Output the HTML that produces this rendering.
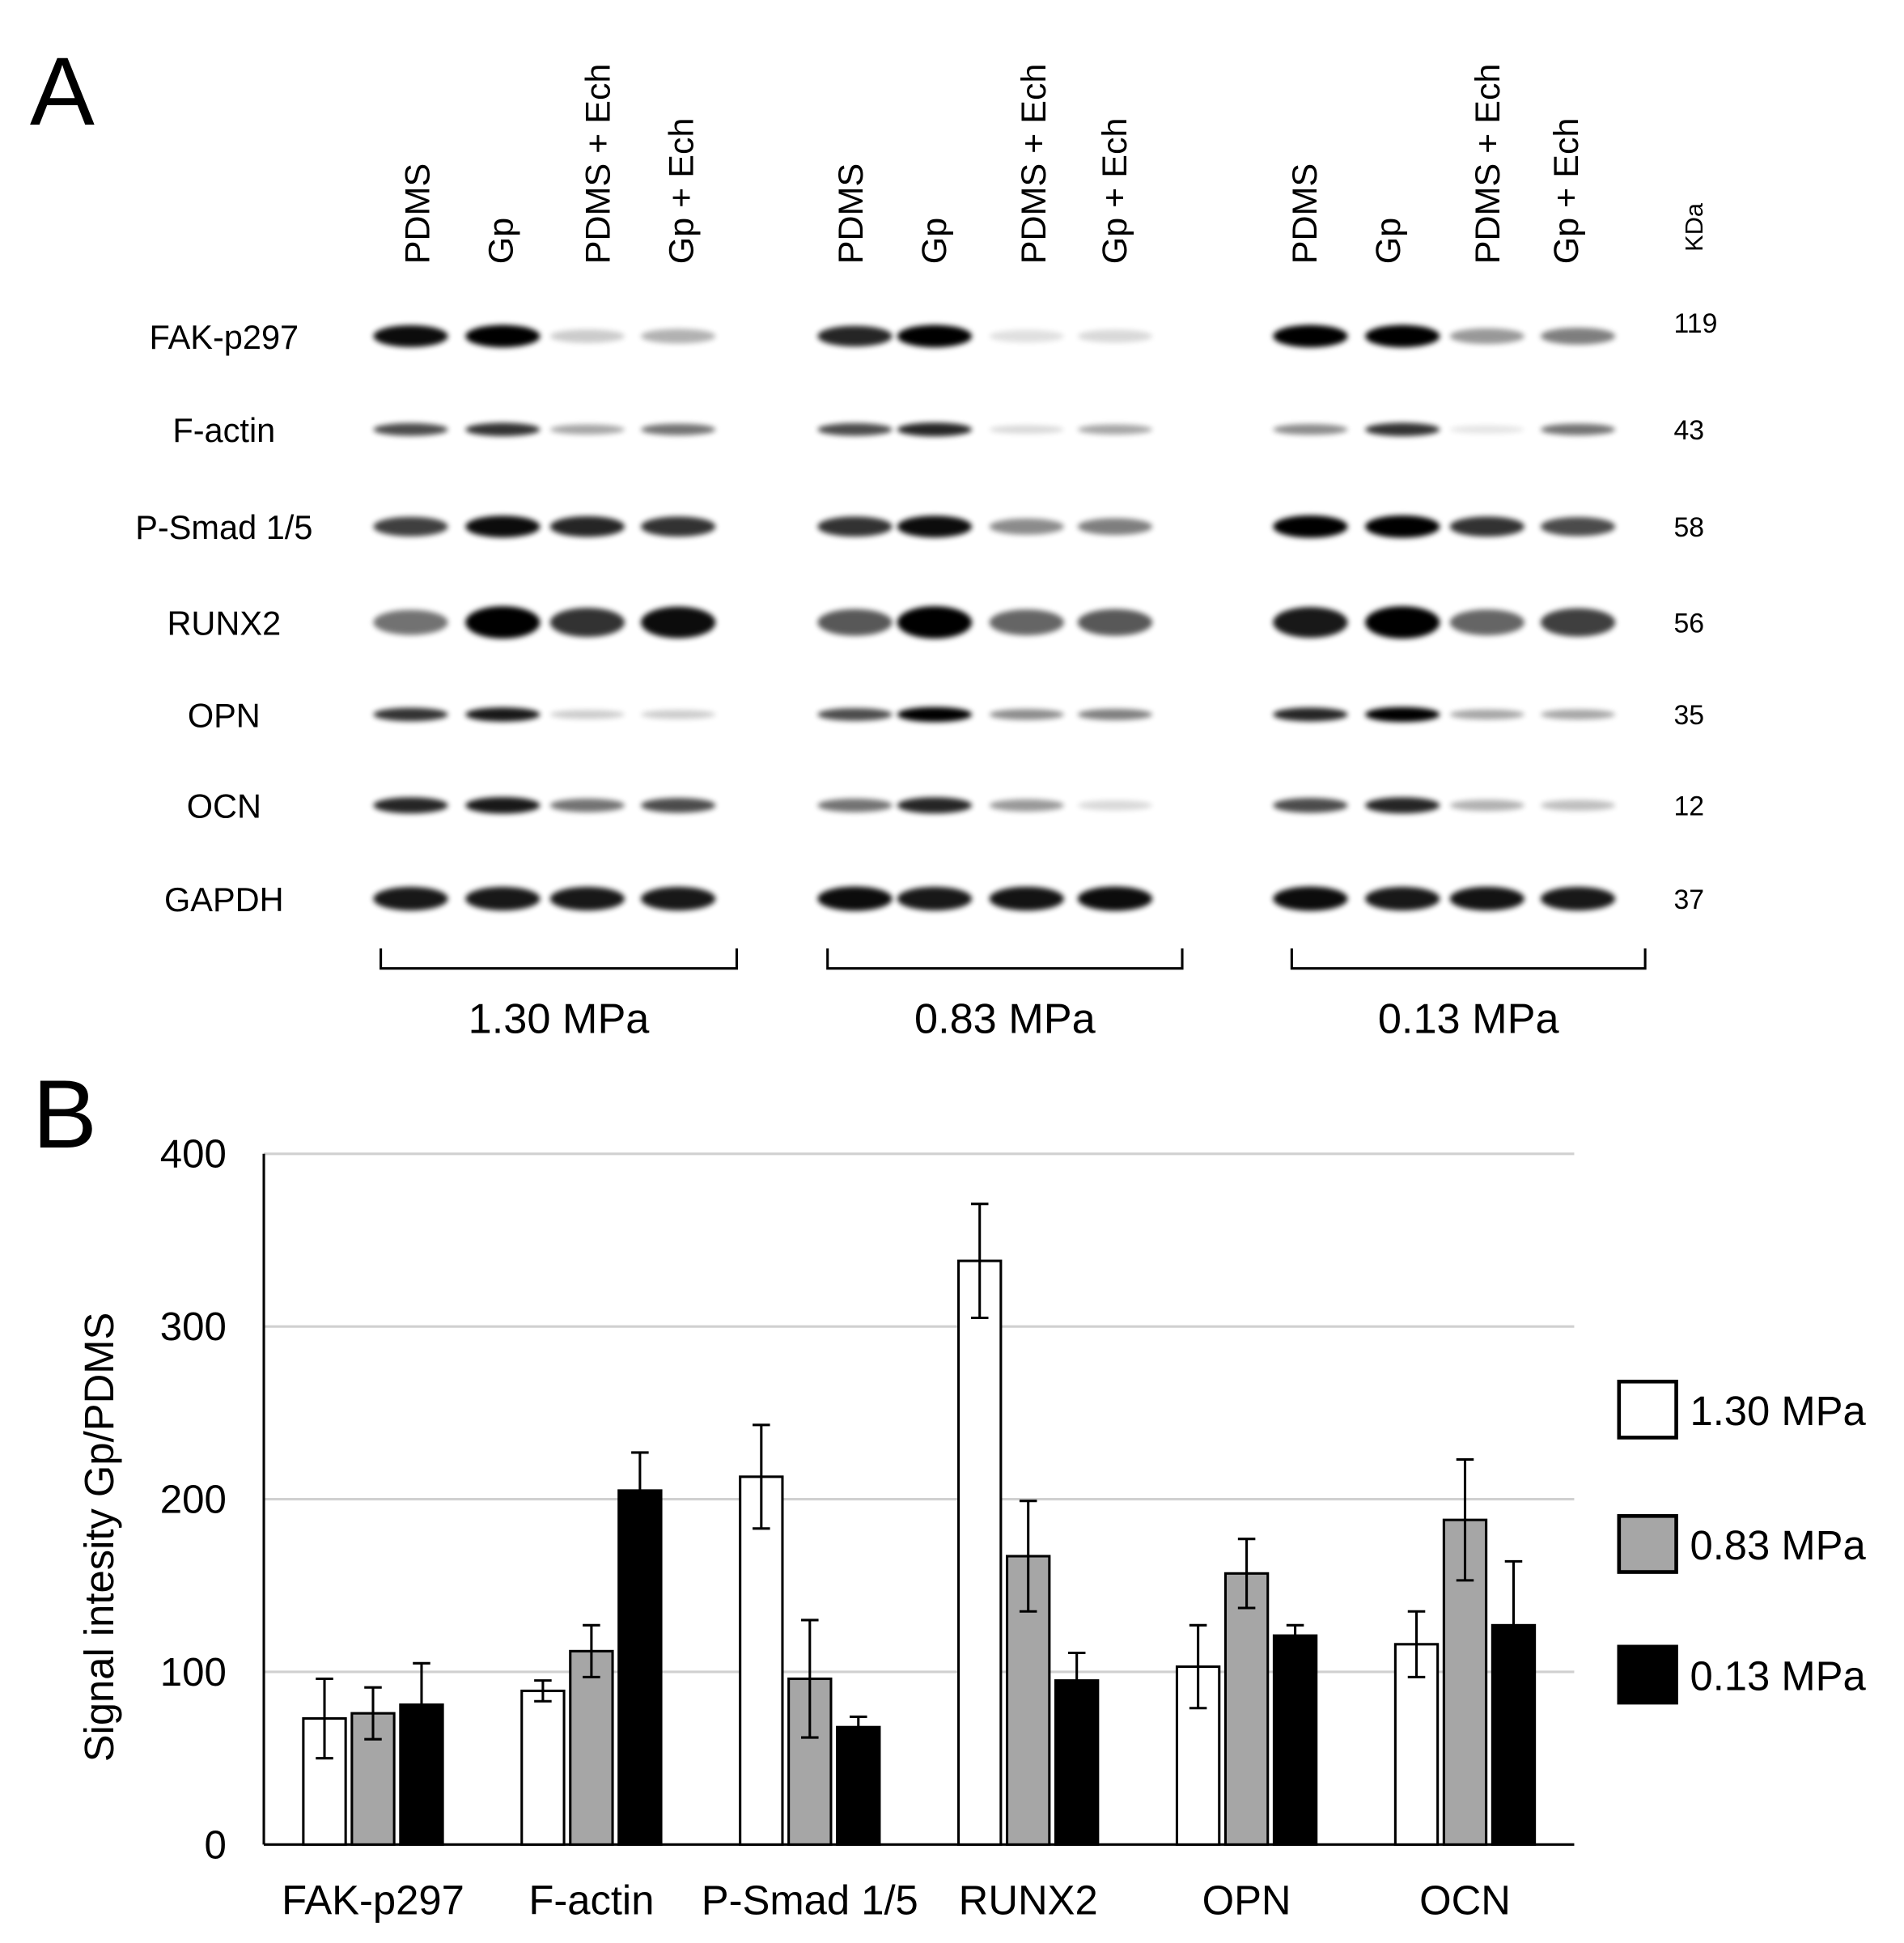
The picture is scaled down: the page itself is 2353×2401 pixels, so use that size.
<!DOCTYPE html>
<html><head><meta charset="utf-8">
<style>
html,body{margin:0;padding:0;background:#fff;}
svg{display:block;font-family:"Liberation Sans",Arial,sans-serif;}
</style></head>
<body>
<svg id="fig" width="2353" height="2401" viewBox="0 0 1530 1561" xmlns="http://www.w3.org/2000/svg">
<defs>
<filter id="blur" x="-20%" y="-100%" width="140%" height="300%"><feGaussianBlur stdDeviation="2.2"/></filter>
</defs>
<rect width="1530" height="1561" fill="#fff"/>
<text x="24" y="100" font-size="78">A</text>
<text x="26" y="922" font-size="78">B</text>
<g id="blot"></g>
<g id="chart"></g>
</svg>
<script>
const NS="http://www.w3.org/2000/svg";
function mk(tag,attrs,parent,text){const e=document.createElementNS(NS,tag);for(const k in attrs)e.setAttribute(k,attrs[k]);if(text!==undefined)e.textContent=text;parent.appendChild(e);return e;}

/* ---------- Panel A: western blot ---------- */
const blot=document.getElementById('blot');
const laneNames=["PDMS","Gp","PDMS + Ech","Gp + Ech"];
const laneLabelX=[[345,412,490,557],[693,760,840,905],[1058,1125,1205,1268]];
const laneCx=[[330,404,472,545],[687,751,825,896],[1053,1127,1195,1268]];
const rowNames=["FAK-p297","F-actin","P-Smad 1/5","RUNX2","OPN","OCN","GAPDH"];
const rowY=[270,345,423,500,574,647,722];
const kda=["119","43","58","56","35","12","37"];
const intens=[
 [[0.95,1,0.2,0.3],[0.85,1,0.12,0.15],[1,1,0.4,0.5]],
 [[0.7,0.8,0.35,0.55],[0.7,0.85,0.15,0.35],[0.45,0.8,0.1,0.55]],
 [[0.75,0.95,0.85,0.8],[0.8,0.95,0.45,0.5],[1,1,0.8,0.7]],
 [[0.55,1,0.8,0.95],[0.65,1,0.6,0.65],[0.9,1,0.6,0.75]],
 [[0.8,0.9,0.2,0.2],[0.7,1,0.45,0.5],[0.85,1,0.35,0.35]],
 [[0.85,0.9,0.55,0.7],[0.55,0.85,0.4,0.15],[0.7,0.85,0.3,0.25]],
 [[0.9,0.9,0.9,0.9],[0.95,0.9,0.92,0.95],[0.95,0.9,0.92,0.9]]];
const rowH=[9,6,9,13,6,7,10];
const ptitles=["1.30 MPa","0.83 MPa","0.13 MPa"];
const brackets=[[306,592],[665,950],[1038,1322]];
for(let p=0;p<3;p++){
  for(let l=0;l<4;l++){
    const t=mk('text',{x:0,y:0,'font-size':28,transform:`translate(${laneLabelX[p][l]},212) rotate(-90)`},blot,laneNames[l]);
    
    
  }
  for(let r=0;r<rowNames.length;r++){
    for(let l=0;l<4;l++){
      const v=intens[r][p][l];
      const e=mk('ellipse',{cx:laneCx[p][l],cy:rowY[r],rx:30,ry:rowH[r]*(0.5+0.5*v),fill:'#000',opacity:v,filter:'url(#blur)'},blot);
      
      
    }
  }
  const [a,b]=brackets[p];
  const br=mk('path',{d:`M${a} 762 V778 H${b} V762`,fill:'none',stroke:'#000','stroke-width':2},blot);
  
  
  const pt=mk('text',{x:(a+b)/2,y:830,'font-size':34,'text-anchor':'middle'},blot,ptitles[p]);
  
  
}
for(let r=0;r<rowNames.length;r++){
  const t=mk('text',{x:180,y:rowY[r]+10,'font-size':27,'text-anchor':'middle'},blot,rowNames[r]);
  
  
  const k=mk('text',{x:1345,y:rowY[r]+(r==0?-3:8),'font-size':22},blot,kda[r]);
  
  
}
const kd=mk('text',{x:0,y:0,'font-size':20,transform:'translate(1368,202) rotate(-90)'},blot,'KDa');



/* ---------- Panel B: bar chart ---------- */
const categories=["FAK-p297","F-actin","P-Smad 1/5","RUNX2","OPN","OCN"];
const seriesNames=["1.30 MPa","0.83 MPa","0.13 MPa"];
const v130=[73,89,213,338,103,116];
const v083=[76,112,96,167,157,188];
const v013=[81,205,68,95,121,127];
const e130=[23,6,30,33,24,19];
const e083=[15,15,34,32,20,35];
const e013=[24,22,6,16,6,37];
const yTicks=[0,100,200,300,400];

const chart=document.getElementById('chart');
const X0=212,X1=1265,Y0=1482,Y400=927;
const y=v=>Y0-(v/400)*(Y0-Y400);
const groupW=(X1-X0)/categories.length;
const xc=i=>X0+groupW*(i+0.5);
const fills=["#fff","#a6a6a6","#000"];
const vals=[v130,v083,v013], errs=[e130,e083,e013];
const offs=[-39,0,39], bw=34;

yTicks.forEach(t=>{
  if(t>0){const g=mk('line',{x1:X0,x2:X1,y1:y(t),y2:y(t),stroke:'#d0d0d0','stroke-width':2},chart);
  
  }
  const tl=mk('text',{x:182,y:y(t)+11,'font-size':32,'text-anchor':'end'},chart,String(t));
  
  
});
const ya=mk('line',{x1:X0,x2:X0,y1:Y400,y2:Y0,stroke:'#000','stroke-width':2},chart);


const xa=mk('line',{x1:X0,x2:X1,y1:Y0,y2:Y0,stroke:'#000','stroke-width':2},chart);


const yt=mk('text',{x:0,y:0,'font-size':33,'text-anchor':'middle',transform:'translate(91,1235) rotate(-90)'},chart,'Signal intesity Gp/PDMS');



categories.forEach((c,i)=>{
  const cx=xc(i);
  for(let s=0;s<3;s++){
    const v=vals[s][i], e=errs[s][i], bx=cx+offs[s];
    const r=mk('rect',{x:bx-bw/2,y:y(v),width:bw,height:Y0-y(v),fill:fills[s],stroke:'#000','stroke-width':2},chart);
    
    
    const eb=mk('path',{d:`M${bx} ${y(v+e)} V${y(v-e)} M${bx-7} ${y(v+e)} H${bx+7} M${bx-7} ${y(v-e)} H${bx+7}`,stroke:'#000','stroke-width':2,fill:'none'},chart);
    
    
  }
  const xl=mk('text',{x:cx,y:1538,'font-size':33,'text-anchor':'middle'},chart,c);
  
  
});

const legY=[1110,1218,1323];
seriesNames.forEach((n,s)=>{
  const r=mk('rect',{x:1301,y:legY[s],width:46,height:45,fill:fills[s],stroke:'#000','stroke-width':3},chart);
  
  
  const t=mk('text',{x:1358,y:legY[s]+35,'font-size':33},chart,n);
  
  
});
</script>
</body></html>
